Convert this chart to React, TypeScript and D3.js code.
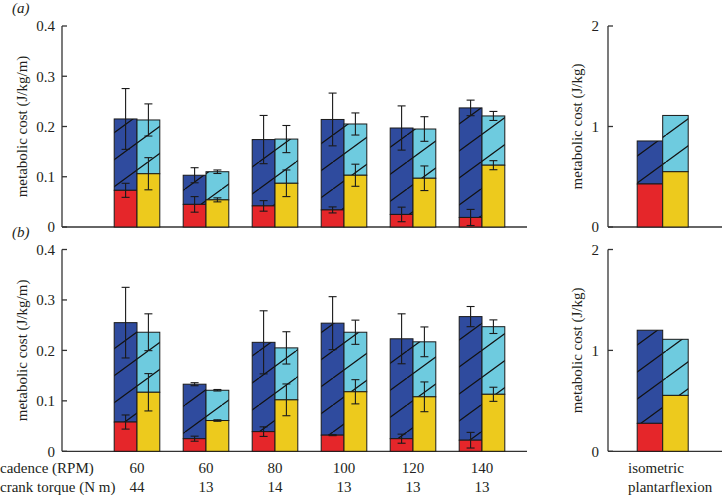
import React from 'react';
import * as d3 from 'd3';

// categories
const cadence = ['60', '60', '80', '100', '120', '140'];
const torque = ['44', '13', '14', '13', '13', '13'];
const yTicksLeft = [0, 0.1, 0.2, 0.3, 0.4];
const yTicksRight = [0, 1, 2];

// panel (a)
const aRed = [0.073, 0.045, 0.042, 0.034, 0.025, 0.019];
const aRedErr = [0.014, 0.0155, 0.0105, 0.006, 0.0145, 0.016];
const aBlueTotal = [0.215, 0.103, 0.174, 0.214, 0.197, 0.237];
const aBlueErr = [0.0605, 0.015, 0.048, 0.0525, 0.044, 0.0155];
const aYellow = [0.106, 0.054, 0.087, 0.103, 0.097, 0.123];
const aYellowErr = [0.032, 0.004, 0.0265, 0.022, 0.0245, 0.009];
const aCyanTotal = [0.213, 0.110, 0.175, 0.205, 0.195, 0.221];
const aCyanErr = [0.032, 0.0035, 0.027, 0.022, 0.0245, 0.009];

// panel (b)
const bRed = [0.058, 0.025, 0.039, 0.032, 0.025, 0.022];
const bRedErr = [0.014, 0.005, 0.0095, 0.001, 0.009, 0.0155];
const bBlueTotal = [0.255, 0.133, 0.216, 0.254, 0.223, 0.267];
const bBlueErr = [0.070, 0.003, 0.0625, 0.0525, 0.0495, 0.020];
const bYellow = [0.117, 0.061, 0.102, 0.118, 0.108, 0.113];
const bYellowErr = [0.037, 0.0015, 0.0315, 0.024, 0.0295, 0.014];
const bCyanTotal = [0.236, 0.121, 0.205, 0.236, 0.217, 0.247];
const bCyanErr = [0.0365, 0.0015, 0.032, 0.024, 0.0295, 0.0135];

// isometric plantarflexion (J/kg)
const isoRed = [0.428, 0.277];
const isoBlueTotal = [0.856, 1.2];
const isoYellow = [0.55, 0.554];
const isoCyanTotal = [1.11, 1.11];

const C_BLUE = '#2f4b9e';
const C_CYAN = '#6ecbdf';
const C_RED = '#e5262a';
const C_YELLOW = '#edca1d';
const FONT = '"Liberation Serif", "Times New Roman", "DejaVu Serif", serif';
const TXT = '#231f20';

type PanelData = {
  red: number[]; redErr: number[]; blue: number[]; blueErr: number[];
  yellow: number[]; yellowErr: number[]; cyan: number[]; cyanErr: number[];
};

const panels: { label: string; top: number; bottom: number; d: PanelData; iso: number }[] = [
  { label: '(a)', top: 26, bottom: 227, iso: 0,
    d: { red: aRed, redErr: aRedErr, blue: aBlueTotal, blueErr: aBlueErr, yellow: aYellow, yellowErr: aYellowErr, cyan: aCyanTotal, cyanErr: aCyanErr } },
  { label: '(b)', top: 249.5, bottom: 451.3, iso: 1,
    d: { red: bRed, redErr: bRedErr, blue: bBlueTotal, blueErr: bBlueErr, yellow: bYellow, yellowErr: bYellowErr, cyan: bCyanTotal, cyanErr: bCyanErr } },
];

const LEFT_AXIS = 62;
const LEFT_END = 527;
const RIGHT_AXIS = 608;
const RIGHT_END = 722;
const BW = 22.8;
const BW_R = 25.5;

const xc = d3.scalePoint<number>().domain(d3.range(cadence.length)).range([137, 482]);
const xIso = 662.7;

const textStyle: React.CSSProperties = { fontFamily: FONT, fontSize: '15px', fill: TXT };

function ErrBar({ x, y0, y1, cap = 8 }: { x: number; y0: number; y1: number; cap?: number }) {
  return (
    <g stroke="#1a1a1a" strokeWidth={1.1} fill="none">
      <line x1={x} x2={x} y1={y0} y2={y1} />
      <line x1={x - cap / 2} x2={x + cap / 2} y1={y0} y2={y0} />
      <line x1={x - cap / 2} x2={x + cap / 2} y1={y1} y2={y1} />
    </g>
  );
}

function Stack({ x, w, y, base, top, baseColor, topColor }: { x: number; w: number; y: d3.ScaleLinear<number, number>; base: number; top: number; baseColor: string; topColor: string }) {
  const y0 = y(0), yb = y(base), yt = y(top);
  return (
    <g>
      <rect x={x} y={yt} width={w} height={yb - yt} fill={topColor} />
      <rect x={x} y={yt} width={w} height={yb - yt} fill="url(#hatch)" />
      <rect x={x} y={yt} width={w} height={yb - yt} fill="none" stroke="#1a1a1a" strokeWidth={1} />
      <rect x={x} y={yb} width={w} height={y0 - yb} fill={baseColor} stroke="#1a1a1a" strokeWidth={1} />
    </g>
  );
}

export default function App() {
  return (
    <svg width={722} height={495} style={{ position: 'absolute', left: 0, top: 0, background: '#fff' }}>
      <defs>
        <pattern id="hatch" patternUnits="userSpaceOnUse" width={37} height={27}>
          <line x1={0} y1={27} x2={37} y2={0} stroke="#111" strokeWidth={1.3} />
          <line x1={-37} y1={27} x2={0} y2={0} stroke="#111" strokeWidth={1.3} />
          <line x1={37} y1={27} x2={74} y2={0} stroke="#111" strokeWidth={1.3} />
        </pattern>
      </defs>
      {panels.map((p) => {
        const yL = d3.scaleLinear().domain([0, 0.4]).range([p.bottom, p.top]);
        const yR = d3.scaleLinear().domain([0, 2]).range([p.bottom, p.top]);
        const d = p.d;
        const mid = (p.top + p.bottom) / 2;
        return (
          <g key={p.label}>
            <text x={12} y={p.top - 13} style={{ ...textStyle, fontStyle: 'italic' }}>{p.label}</text>
            {/* left axis */}
            <line x1={LEFT_AXIS} x2={LEFT_AXIS} y1={p.top} y2={p.bottom} stroke="#333" strokeWidth={1.3} />
            <line x1={LEFT_AXIS} x2={LEFT_END} y1={p.bottom} y2={p.bottom} stroke="#333" strokeWidth={1.3} />
            {yTicksLeft.map((t) => (
              <g key={t}>
                <line x1={LEFT_AXIS} x2={LEFT_AXIS + 5} y1={yL(t)} y2={yL(t)} stroke="#333" strokeWidth={1.3} />
                <text x={LEFT_AXIS - 7} y={yL(t)} dy="0.35em" textAnchor="end" style={textStyle}>{t === 0 ? '0' : t.toFixed(1)}</text>
              </g>
            ))}
            <text transform={`translate(22,${mid}) rotate(-90)`} textAnchor="middle" dy="0.35em" style={textStyle}>metabolic cost (J/kg/m)</text>
            {cadence.map((_, i) => {
              const cx = xc(i) as number;
              return (
                <g key={i}>
                  <Stack x={cx - BW} w={BW} y={yL} base={d.red[i]} top={d.blue[i]} baseColor={C_RED} topColor={C_BLUE} />
                  <Stack x={cx} w={BW} y={yL} base={d.yellow[i]} top={d.cyan[i]} baseColor={C_YELLOW} topColor={C_CYAN} />
                  <ErrBar x={cx - BW / 2} y0={yL(d.blue[i] + d.blueErr[i])} y1={yL(d.blue[i] - d.blueErr[i])} />
                  <ErrBar x={cx - BW / 2} y0={yL(d.red[i] + d.redErr[i])} y1={yL(d.red[i] - d.redErr[i])} />
                  <ErrBar x={cx + BW / 2} y0={yL(d.cyan[i] + d.cyanErr[i])} y1={yL(d.cyan[i] - d.cyanErr[i])} />
                  <ErrBar x={cx + BW / 2} y0={yL(d.yellow[i] + d.yellowErr[i])} y1={yL(d.yellow[i] - d.yellowErr[i])} />
                </g>
              );
            })}
            {/* right axis */}
            <line x1={RIGHT_AXIS} x2={RIGHT_AXIS} y1={p.top} y2={p.bottom} stroke="#333" strokeWidth={1.3} />
            <line x1={RIGHT_AXIS} x2={RIGHT_END} y1={p.bottom} y2={p.bottom} stroke="#333" strokeWidth={1.3} />
            {yTicksRight.map((t) => (
              <g key={t}>
                <line x1={RIGHT_AXIS} x2={RIGHT_AXIS + 5} y1={yR(t)} y2={yR(t)} stroke="#333" strokeWidth={1.3} />
                <text x={RIGHT_AXIS - 9} y={yR(t)} dy="0.35em" textAnchor="end" style={textStyle}>{t}</text>
              </g>
            ))}
            <text transform={`translate(577,${mid}) rotate(-90)`} textAnchor="middle" dy="0.35em" style={textStyle}>metabolic cost (J/kg)</text>
            <Stack x={xIso - BW_R} w={BW_R} y={yR} base={isoRed[p.iso]} top={isoBlueTotal[p.iso]} baseColor={C_RED} topColor={C_BLUE} />
            <Stack x={xIso} w={BW_R} y={yR} base={isoYellow[p.iso]} top={isoCyanTotal[p.iso]} baseColor={C_YELLOW} topColor={C_CYAN} />
          </g>
        );
      })}
      {/* x category labels */}
      <text x={0} y={473} style={textStyle}>cadence (RPM)</text>
      <text x={0} y={492} style={textStyle}>crank torque (N m)</text>
      {cadence.map((c, i) => (
        <text key={'c' + i} x={xc(i) as number} y={473} textAnchor="middle" style={textStyle}>{c}</text>
      ))}
      {torque.map((t, i) => (
        <text key={'t' + i} x={xc(i) as number} y={492} textAnchor="middle" style={textStyle}>{t}</text>
      ))}
      <text x={628} y={473} style={textStyle}>isometric</text>
      <text x={628} y={492} style={textStyle}>plantarflexion</text>
    </svg>
  );
}
